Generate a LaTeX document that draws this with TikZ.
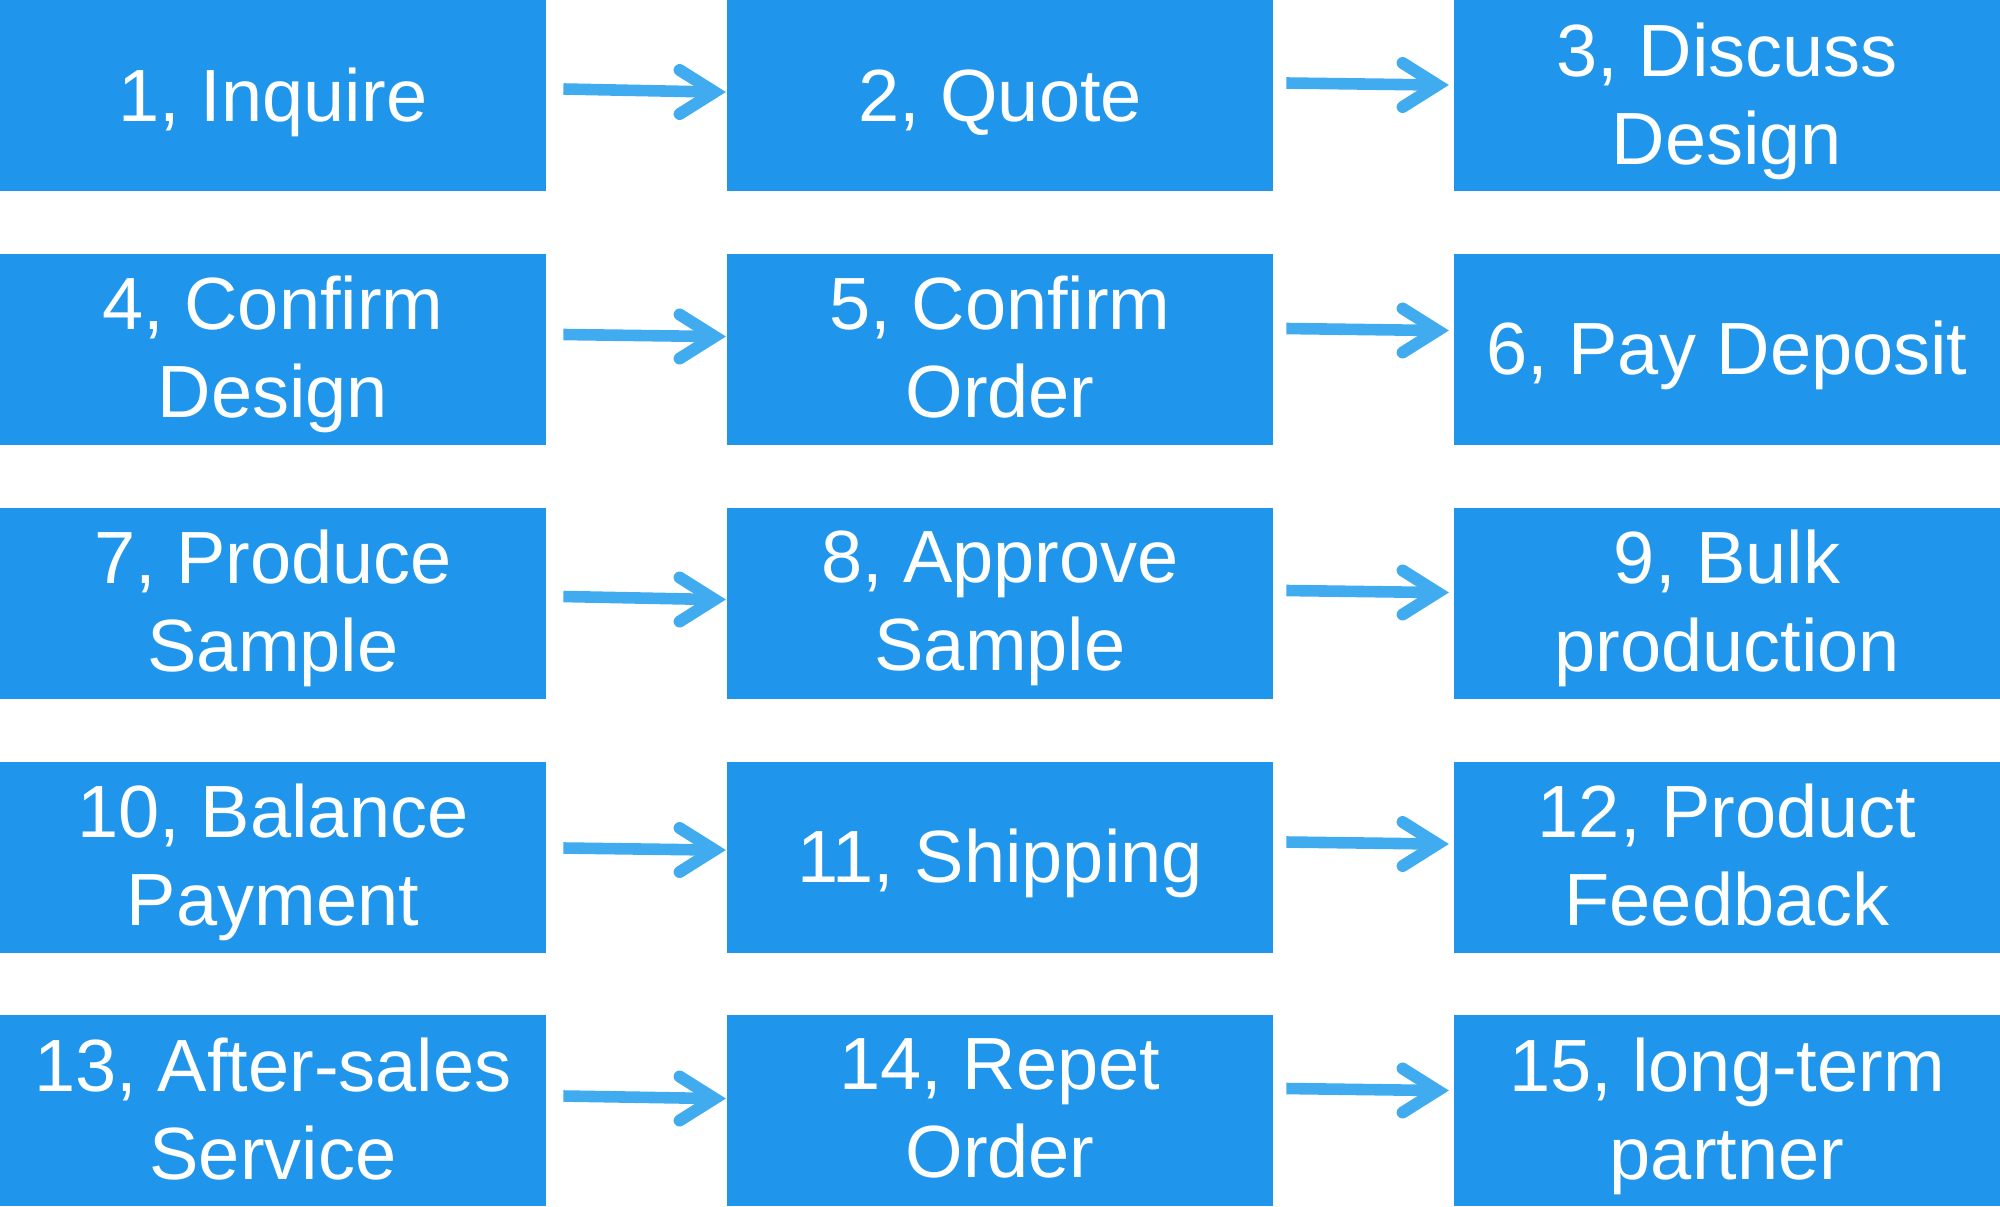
\documentclass[tikz,border=0pt]{standalone}
\usepackage{fontspec}
\setmainfont{Liberation Sans}
\definecolor{boxblue}{HTML}{1F96EC}
\definecolor{arrblue}{HTML}{40ACEF}
\begin{document}
\begin{tikzpicture}[x=0.5pt,y=-0.5pt,
  stepbox/.style={rectangle, fill=boxblue, draw=none, minimum width=273pt, minimum height=95.5pt,
    inner sep=0pt},
  steptext/.style={inner sep=0pt, text=white, align=center, font=\fontsize{37}{44}\selectfont,
    execute at begin node=\strut, execute at end node=\strut},
  shaft/.style={draw=arrblue, line width=5.8pt, line cap=butt},
  head/.style={draw=arrblue, line width=6pt, line cap=round, line join=miter}]
\useasboundingbox (0,0) rectangle (2000,1206);
\node[stepbox] (n1) at (273,95.5) {};
\node[stepbox] (n2) at (1000,95.5) {};
\node[stepbox] (n3) at (1727,95.5) {};
\node[stepbox] (n4) at (273,349) {};
\node[stepbox] (n5) at (1000,349) {};
\node[stepbox] (n6) at (1727,349) {};
\node[stepbox] (n7) at (273,603) {};
\node[stepbox] (n8) at (1000,603) {};
\node[stepbox] (n9) at (1727,603) {};
\node[stepbox] (n10) at (273,857) {};
\node[stepbox] (n11) at (1000,857) {};
\node[stepbox] (n12) at (1727,857) {};
\node[stepbox] (n13) at (273,1110.5) {};
\node[stepbox] (n14) at (1000,1110.5) {};
\node[stepbox] (n15) at (1727,1110.5) {};
\node[steptext] (t1) at ([yshift=-4pt]n1.center) {1, Inquire};
\node[steptext] (t2) at ([yshift=-4pt]n2.center) {2, Quote};
\node[steptext] (t3) at ([yshift=-5.5pt]n3.center) {3, Discuss\\Design};
\node[steptext] (t4) at ([yshift=-5.5pt]n4.center) {4, Confirm\\Design};
\node[steptext] (t5) at ([yshift=-5.5pt]n5.center) {5, Confirm\\Order};
\node[steptext] (t6) at ([yshift=-4pt]n6.center) {6, Pay Deposit};
\node[steptext] (t7) at ([yshift=-5.5pt]n7.center) {7, Produce\\Sample};
\node[steptext] (t8) at ([yshift=-5.5pt]n8.center) {8, Approve\\Sample};
\node[steptext] (t9) at ([yshift=-5.5pt]n9.center) {9, Bulk\\production};
\node[steptext] (t10) at ([yshift=-5.5pt]n10.center) {10, Balance\\Payment};
\node[steptext] (t11) at ([yshift=-4pt]n11.center) {11, Shipping};
\node[steptext] (t12) at ([yshift=-5.5pt]n12.center) {12, Product\\Feedback};
\node[steptext] (t13) at ([yshift=-5.5pt]n13.center) {13, After-sales\\Service};
\node[steptext] (t14) at ([yshift=-5.5pt]n14.center) {14, Repet\\Order};
\node[steptext] (t15) at ([yshift=-5.5pt]n15.center) {15, long-term\\partner};
% connectors: A -> B, shaft then head; start gap (pt), tip offset (pt), left rise, tip rise (px)
\foreach \a/\b/\sx/\tx/\lu/\tu in {
  n1/n2/8.5/-0.5/6.5/3.5, n2/n3/6.5/-2.5/12.5/10.5,
  n4/n5/8.5/-0.5/14.5/12.5, n5/n6/6.5/-2.5/20.5/18.5,
  n7/n8/8.5/-0.5/6.5/3.5, n8/n9/6.5/-2.5/12.5/10.5,
  n10/n11/8.5/-0.5/9/7, n11/n12/6.5/-2.5/15/13,
  n13/n14/8.5/-0.5/14.5/12, n14/n15/6.5/-2.5/22/20}{
  \draw[shaft] ([xshift=\sx*1pt,yshift=\lu*0.5pt]\a.east) -- ([xshift=\tx*1pt-6pt,yshift=\tu*0.5pt]\b.west);
  \draw[head] ([xshift=\tx*1pt,yshift=\tu*0.5pt]\b.west) ++(-46,-22) -- ++(35,22) -- ++(-35,22);
}
\end{tikzpicture}
\end{document}
